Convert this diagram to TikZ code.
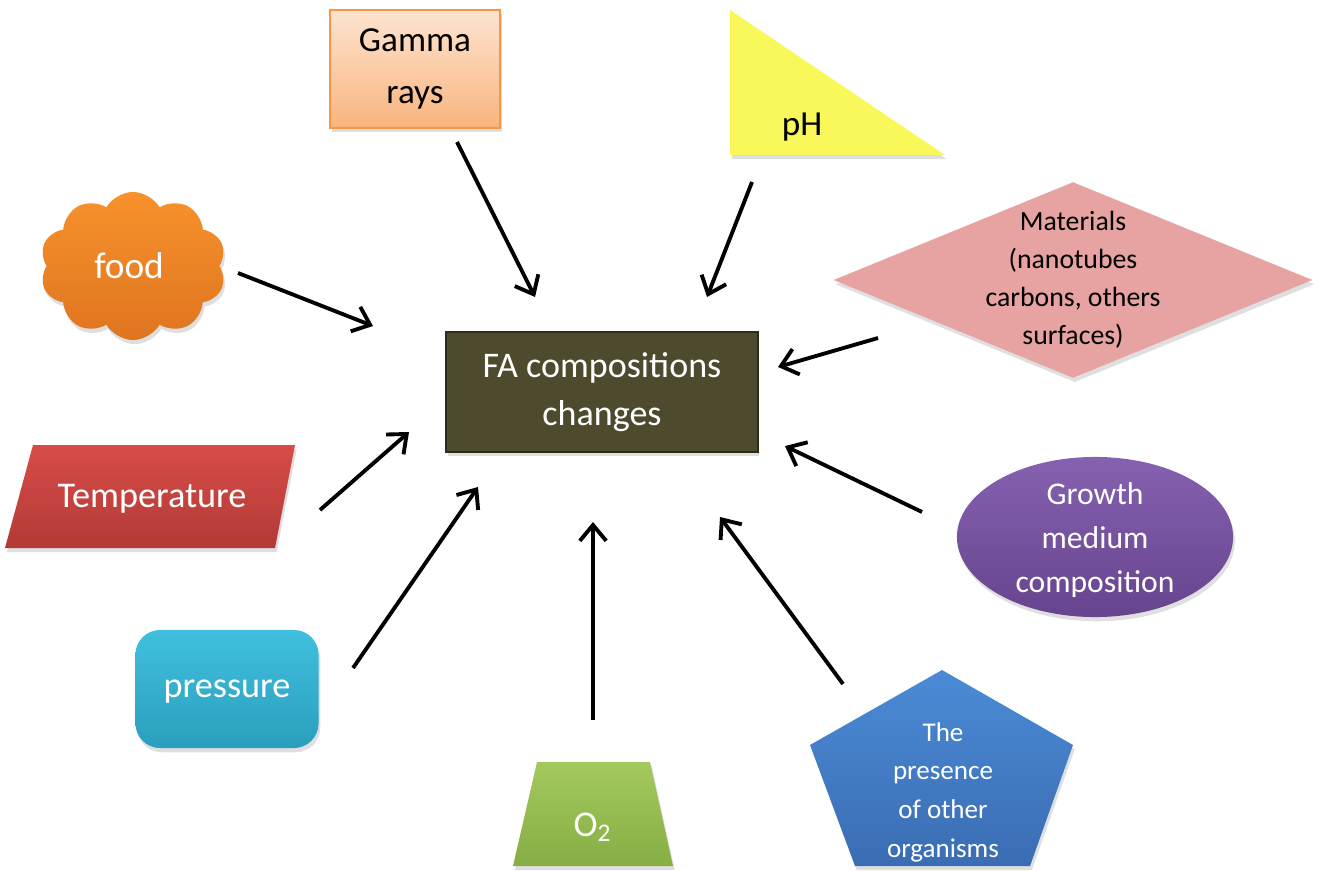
\documentclass[tikz,border=0pt]{standalone}
\usepackage{fontspec}
\setmainfont{Carlito}
\usetikzlibrary{arrows.meta,shapes.geometric,shapes.symbols,shadows}

\definecolor{faolive}{HTML}{4E4A2E}
\definecolor{faedge}{HTML}{2E2B18}
\definecolor{gammatop}{HTML}{FDE4D0}
\definecolor{gammabot}{HTML}{F9B47E}
\definecolor{gammaedge}{HTML}{F79646}
\definecolor{phyellow}{HTML}{F8F85A}
\definecolor{foodtop}{HTML}{F7922C}
\definecolor{foodbot}{HTML}{DF7520}
\definecolor{matpink}{HTML}{E6A3A1}
\definecolor{temptop}{HTML}{D84C48}
\definecolor{tempbot}{HTML}{B23A36}
\definecolor{presstop}{HTML}{40C0DE}
\definecolor{pressbot}{HTML}{2B9EBD}
\definecolor{oxytop}{HTML}{A3C95E}
\definecolor{oxybot}{HTML}{87AE44}
\definecolor{orgtop}{HTML}{4B8BD6}
\definecolor{orgbot}{HTML}{3A6DB3}
\definecolor{growthtop}{HTML}{8561B0}
\definecolor{growthbot}{HTML}{67448E}

\tikzset{
  softshadow/.style={drop shadow={opacity=0.25,shadow xshift=0.5pt,shadow yshift=-1.2pt}},
  whitetext/.style={text=white, align=center, inner sep=0pt},
  blacktext/.style={text=black, align=center, inner sep=0pt},
  fabox/.style={whitetext, softshadow, rectangle, fill=faolive, draw=faedge, line width=0.6pt,
    minimum width=3.11cm, minimum height=1.2cm, font=\fontsize{10.25}{13.6}\selectfont},
  gammabox/.style={blacktext, softshadow, rectangle, top color=gammatop, bottom color=gammabot,
    draw=gammaedge, line width=0.5pt, minimum width=1.7cm, minimum height=1.18cm,
    font=\fontsize{10}{15}\selectfont},
  phshape/.style={softshadow, fill=phyellow},
  foodcloud/.style={softshadow, cloud, cloud puffs=10, cloud puff arc=120, aspect=1.25,
    top color=foodtop, bottom color=foodbot, minimum width=1.86cm, minimum height=1.48cm},
  matdiamond/.style={softshadow, diamond, fill=matpink, aspect=2.44, minimum width=4.79cm,
    minimum height=1.96cm, inner sep=0pt},
  tempshape/.style={softshadow, top color=temptop, bottom color=tempbot},
  pressbox/.style={softshadow, rectangle, rounded corners=7pt, top color=presstop,
    bottom color=pressbot, minimum width=1.83cm, minimum height=1.18cm},
  oxyshape/.style={softshadow, top color=oxytop, bottom color=oxybot},
  orgshape/.style={softshadow, top color=orgtop, bottom color=orgbot},
  growthell/.style={softshadow, ellipse, top color=growthtop, bottom color=growthbot,
    minimum width=2.76cm, minimum height=1.6cm},
  label10/.style={whitetext, font=\fontsize{10.3}{12}\selectfont},
}

\begin{document}
\begin{tikzpicture}[x=0.01cm,y=-0.01cm,>={Straight Barb[length=4.5pt,width=7.5pt]}]
  \useasboundingbox (0,0) rectangle (1322,870);

  % Centre box
  \node[fabox] (fa) at (602,392) {FA compositions\\changes};

  % Factors round it
  \node[gammabox] (gamma) at (415,69) {Gamma\\rays};

  \path[phshape] (730,10) -- (730,155) -- (945,155) -- cycle;
  \node[blacktext, font=\fontsize{10}{12}\selectfont] (ph) at (802,127) {pH};

  \node[foodcloud] (food) at (133,266) {};
  \node[label10, font=\fontsize{10.6}{12}\selectfont] (foodtext) at (129,266) {food};

  \node[matdiamond] (mat) at (1073,280) {};
  \node[blacktext, font=\fontsize{7.9}{10.8}\selectfont] (mattext) at (mat)
    {Materials\\(nanotubes\\carbons, others\\surfaces)};

  \path[tempshape] (33,445) -- (295,445) -- (275,548) -- (5,548) -- cycle;
  \node[label10] (temp) at (152,499) {Temperature};

  \node[pressbox] (press) at (227,689) {};
  \node[label10] (presstext) at (227,692) {pressure};

  \path[oxyshape] (537,762) -- (650,762) -- (673,866) -- (513,866) -- cycle;
  \node[label10] (oxy) at (593,827) {O\textsubscript{2}};

  \path[orgshape] (942,670) -- (1073,745) -- (1030,866) -- (855,866) -- (810,745) -- cycle;
  \node[whitetext, font=\fontsize{7.7}{11}\selectfont] (org) at (943,792)
    {The\\presence\\of other\\organisms};

  \node[growthell] (growth) at (1095,537) {};
  \node[whitetext, font=\fontsize{9}{12.5}\selectfont] (growthtext) at (1095,540)
    {Growth\\medium\\composition};

  % Arrow ends (tail t, head h)
  \coordinate (tgamma) at (457,142);  \coordinate (hgamma) at (535,297);
  \coordinate (tph) at (752,182);     \coordinate (hph) at (707,297);
  \coordinate (tfood) at (238,273);   \coordinate (hfood) at (373,326);
  \coordinate (tmat) at (878,338);    \coordinate (hmat) at (778,367);
  \coordinate (ttemp) at (320,510);   \coordinate (htemp) at (409,432);
  \coordinate (tpress) at (353,668);  \coordinate (hpress) at (478,487);
  \coordinate (toxy) at (593,720);    \coordinate (hoxy) at (593,522);
  \coordinate (torg) at (843,684);    \coordinate (horg) at (720,517);
  \coordinate (tgrowth) at (922,512); \coordinate (hgrowth) at (785,446);

  % Arrows
  \foreach \s in {gamma,ph,food,mat,temp,press,oxy,org,growth}
    \draw[->, line width=1.1pt] (t\s) -- (h\s);
\end{tikzpicture}
\end{document}
